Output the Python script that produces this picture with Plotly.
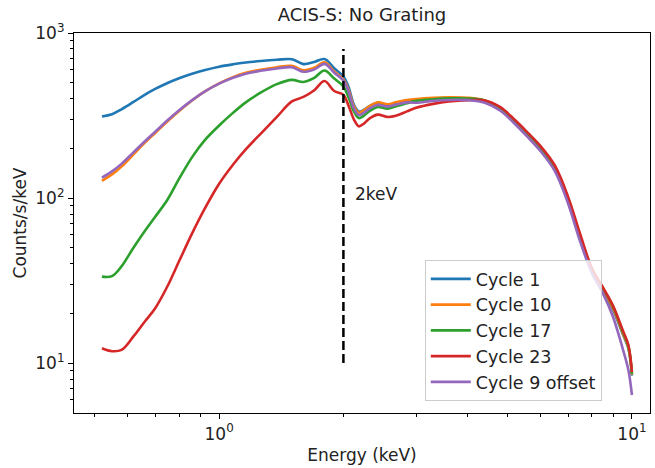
import numpy as np
import plotly.graph_objects as go

# ---------------- data ----------------
energy = [0.52, 0.55, 0.58, 0.62, 0.66, 0.70, 0.75, 0.80, 0.86, 0.92, 1.0, 1.08, 1.16, 1.26, 1.38,
          1.50, 1.60, 1.70, 1.80, 1.90, 2.00, 2.06, 2.12, 2.18, 2.24, 2.32, 2.42, 2.56, 2.68, 2.85,
          3.0, 3.3, 3.6, 4.0, 4.4, 4.8, 5.2, 5.6, 6.0, 6.5, 7.0, 7.5, 8.0, 8.5, 9.0, 9.5, 9.8, 10.0]

cycle1 = [312, 322, 345, 382, 422, 458, 498, 532, 566, 595, 625, 646, 662, 676, 688,
          694, 648, 668, 695, 611, 545, 468, 368, 334, 342, 362, 378, 366, 376, 388,
          393, 401, 405, 402, 388, 348, 290, 240, 200, 152, 98, 57, 36, 27.5, 21, 15, 12.3, 8.4]

cycle10 = [127, 139, 155, 184, 216, 248, 292, 337, 390, 440, 495, 540, 574, 598, 620,
           632, 595, 615, 665, 585, 522, 450, 360, 328, 340, 362, 380, 370, 380, 392,
           398, 405, 408, 405, 390, 350, 292, 242, 201, 153, 99, 57.5, 36.5, 28, 21.5, 15.2, 12.5, 8.5]

cycle17 = [33.4, 33.6, 38.5, 50, 63, 77, 98, 131, 177, 222, 275, 328, 380, 435, 490,
           520, 505, 535, 593, 530, 475, 405, 335, 305, 315, 338, 356, 348, 360, 375,
           388, 397, 402, 401, 390, 352, 295, 245, 203, 155, 100, 58, 37, 28.5, 22, 15.5, 12.7, 8.6]

cycle23 = [12.3, 11.8, 12.0, 14.5, 17.8, 21.5, 29.3, 41.5, 61, 85, 122, 159, 197, 245, 310,
           385, 410, 450, 512, 445, 422, 360, 300, 272, 282, 305, 320, 310, 315, 335,
           352, 372, 385, 392, 390, 355, 298, 248, 207, 158, 102, 60, 37.5, 28.8, 22.2, 15.8, 12.9, 8.8]

cycle9_offset = [133, 145, 161, 189, 220, 252, 296, 340, 392, 440, 493, 535, 567, 590, 610,
                 620, 582, 602, 650, 575, 515, 440, 350, 318, 328, 350, 366, 358, 368, 380,
                 378, 388, 393, 392, 378, 338, 282, 233, 193, 146, 93, 54, 35, 26.5, 19, 12.2, 9.1, 6.4]

series_names = ["Cycle 1", "Cycle 10", "Cycle 17", "Cycle 23", "Cycle 9 offset"]
series_values = [cycle1, cycle10, cycle17, cycle23, cycle9_offset]
series_colors = ["#1f77b4", "#ff7f0e", "#2ca02c", "#d62728", "#9467bd"]

line_energy = [2.0, 2.0]
line_counts = [10, 800]
line_label = "2keV"

x_tickvals = [1, 10]
x_ticktext = ["10<sup>0</sup>", "10<sup>1</sup>"]
x_minor = [0.5, 0.6, 0.7, 0.8, 0.9, 2, 3, 4, 5, 6, 7, 8, 9]
y_tickvals = [10, 100, 1000]
y_ticktext = ["10<sup>1</sup>", "10<sup>2</sup>", "10<sup>3</sup>"]
y_minor = [6, 7, 8, 9, 20, 30, 40, 50, 60, 70, 80, 90, 200, 300, 400, 500, 600, 700, 800, 900]

# ---------------- figure ----------------
fig = go.Figure()
for name, vals, col in zip(series_names, series_values, series_colors):
    fig.add_trace(go.Scatter(x=energy, y=vals, mode="lines", name=name,
                             line=dict(color=col, width=2.6, shape="spline", smoothing=1.0)))

fig.add_trace(go.Scatter(x=line_energy, y=line_counts, mode="lines", showlegend=False,
                         line=dict(color="black", width=2.5, dash="9px,4px")))

fig.add_annotation(x=np.log10(2.107), y=np.log10(106), text=line_label, showarrow=False,
                   xanchor="left", yanchor="middle", font=dict(size=17, color="#222"))

axis_common = dict(showline=True, linecolor="black", linewidth=1.2, mirror=True,
                   ticks="outside", ticklen=5, tickwidth=1.2, tickcolor="black",
                   showgrid=False, zeroline=False,
                   tickfont=dict(size=17, color="#222"))

fig.update_xaxes(type="log", range=[np.log10(0.445), np.log10(11.06)],
                 tickvals=x_tickvals, ticktext=x_ticktext,
                 minor=dict(tickvals=x_minor, ticks="outside", ticklen=3, tickcolor="black", showgrid=False),
                 title=dict(text="Energy (keV)", font=dict(size=17, color="#222"), standoff=6),
                 **axis_common)
fig.update_yaxes(type="log", range=[np.log10(4.98), 3.0],
                 tickvals=y_tickvals, ticktext=y_ticktext,
                 minor=dict(tickvals=y_minor, ticks="outside", ticklen=3, tickcolor="black", showgrid=False),
                 title=dict(text="Counts/s/keV", font=dict(size=17, color="#222"), standoff=4),
                 **axis_common)

fig.update_layout(
    width=655, height=468,
    margin=dict(l=74, r=5, t=33, b=55),
    paper_bgcolor="white", plot_bgcolor="white",
    font=dict(family="DejaVu Sans", color="#222"),
    title=dict(text="ACIS-S: No Grating", x=0.5, xref="paper", xanchor="center",
               y=1 - 15 / 468, yref="container", yanchor="middle",
               font=dict(size=18, color="#222")),
    legend=dict(x=0.609, y=0.4026, xanchor="left", yanchor="top", itemwidth=40,
                bgcolor="rgba(255,255,255,0.8)", bordercolor="#cccccc", borderwidth=1,
                font=dict(size=17.5, color="#222")),
)

fig.write_html("out.html")
